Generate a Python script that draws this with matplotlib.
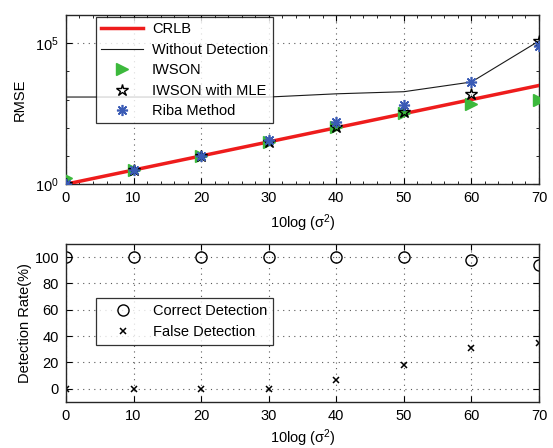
import matplotlib
matplotlib.use("Agg")
import matplotlib.pyplot as plt
import numpy as np
from matplotlib.ticker import FixedLocator, NullFormatter, MultipleLocator

plt.rcParams['font.family'] = ['Liberation Sans', 'DejaVu Sans']
plt.rcParams['mathtext.fontset'] = 'custom'
plt.rcParams['mathtext.rm'] = 'Liberation Sans'
plt.rcParams['mathtext.it'] = 'Liberation Sans'

snr = [0, 10, 20, 30, 40, 50, 60, 70]
crlb = [1, 3.16, 10, 31.6, 100, 316, 1000, 3162]
without_det = [1230, 1230, 1230, 1230, 1600, 1900, 4200, 120000]
iwson = [1.7, 3.2, 10.3, 31, 103, 330, 690, 1000]
iwson_mle = [1, 3.2, 10, 30, 107, 350, 1550, 120000]
riba = [1, 3.2, 10, 37, 160, 640, 4200, 80000]

correct_det = [100, 100, 100, 100, 100, 100, 98, 94]
false_det = [0, 0, 0, 0, 7, 18, 31, 35]

fig = plt.figure(figsize=(5.53, 4.48), dpi=100)
ax1 = fig.add_axes([0.1193, 0.589, 0.8554, 0.3775])
ax2 = fig.add_axes([0.1193, 0.1027, 0.8554, 0.3527])

fs = 10.5
grid_kw = dict(color='0.35', linestyle=(0, (1, 4)), linewidth=0.8)
xlab = '10log (σ$^{2}$)'

# top
ax1.plot(snr, crlb, color='#ee1c1c', lw=2.5, label='CRLB', zorder=3)
ax1.plot(snr, without_det, color='0.1', lw=0.8, label='Without Detection', zorder=2)
ax1.plot(snr, iwson, linestyle='none', marker='>', color='#3cb93c', ms=8, label='IWSON', zorder=4)
ax1.plot(snr, iwson_mle, linestyle='none', marker='*', mfc='none', mec='k', mew=1.0, ms=9,
         label='IWSON with MLE', zorder=5)
ax1.plot(snr, riba, linestyle='none', marker=(8, 2, 0), color='#3a5bb5', mew=1.2, ms=8,
         label='Riba Method', zorder=6)
ax1.set_yscale('log')
ax1.set_ylim(1, 1e6)
ax1.set_xlim(0, 70)
ax1.yaxis.set_major_locator(FixedLocator([1, 1e5]))
ax1.yaxis.set_minor_locator(FixedLocator([10, 100, 1000, 1e4, 1e6]))
ax1.yaxis.set_minor_formatter(NullFormatter())
ax1.set_yticklabels(['$10^{0}$', '$10^{5}$'])
ax1.xaxis.set_major_locator(MultipleLocator(10))
ax1.xaxis.set_minor_locator(MultipleLocator(2))
ax1.grid(True, which='major', **grid_kw)
ax1.set_xlabel(xlab, fontsize=fs, labelpad=5)
ax1.set_ylabel('RMSE', fontsize=fs, labelpad=6)
leg1 = ax1.legend(loc='upper left', bbox_to_anchor=(0.063, 0.988), fontsize=fs, frameon=True,
                  fancybox=False, edgecolor='k', handlelength=2.9, borderpad=0.35,
                  labelspacing=0.45, handletextpad=0.6, borderaxespad=0)
leg1.get_frame().set_linewidth(0.9)

# bottom
ax2.plot(snr, correct_det, linestyle='none', marker='o', mfc='none', mec='k', mew=1.0, ms=8,
         label='Correct Detection')
ax2.plot(snr, false_det, linestyle='none', marker='x', color='k', mew=1.1, ms=5,
         label='False Detection')
ax2.set_xlim(0, 70)
ax2.set_ylim(-10, 110)
ax2.set_yticks([0, 20, 40, 60, 80, 100])
ax2.xaxis.set_major_locator(MultipleLocator(10))
ax2.grid(True, which='major', **grid_kw)
ax2.set_xlabel(xlab, fontsize=fs, labelpad=3)
ax2.set_ylabel('Detection Rate(%)', fontsize=fs, labelpad=2)
leg2 = ax2.legend(loc='upper left', bbox_to_anchor=(0.063, 0.655), fontsize=fs, frameon=True,
                  fancybox=False, edgecolor='k', handlelength=2.9, borderpad=0.4,
                  labelspacing=0.45, handletextpad=0.6, borderaxespad=0)
leg2.get_frame().set_linewidth(0.9)

for ax in (ax1, ax2):
    ax.tick_params(which='both', direction='in', top=True, right=True, labelsize=fs, pad=5)
    ax.tick_params(which='major', length=4)
    ax.tick_params(which='minor', length=2)
    for s in ax.spines.values():
        s.set_linewidth(1.0)
        s.set_color('0.15')

fig.savefig('out.png', dpi=100)
